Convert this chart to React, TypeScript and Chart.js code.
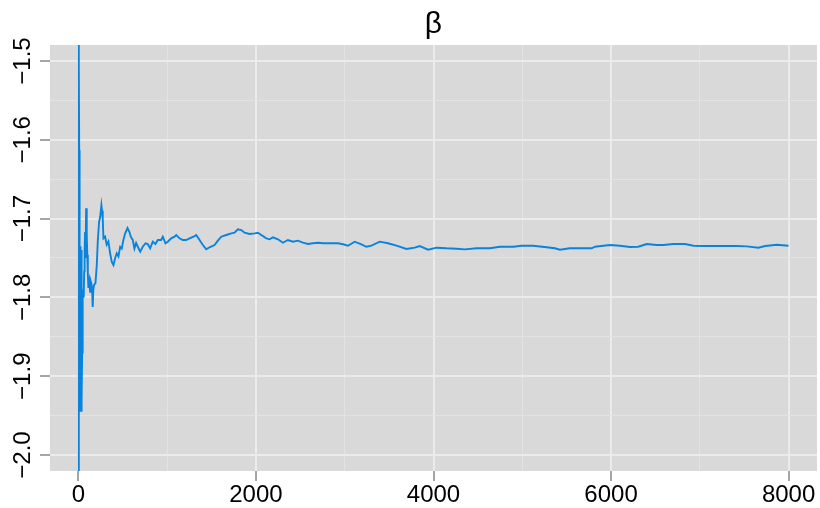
import React, { useEffect, useRef } from "react";
import { Chart, registerables } from "chart.js";

Chart.register(...registerables);

// Iteration numbers and running-mean values of β
const iterations = [
  1, 3, 6, 9, 12, 15, 18, 21, 24, 27, 30, 33, 36, 39, 42, 46, 50, 55, 60, 65, 70, 75, 80, 87, 94,
  100, 106, 113, 122, 132, 140, 150, 156, 161, 168, 177, 192, 207, 218, 233, 245, 259, 266, 274,
  282, 301, 319, 338, 357, 376, 395, 414, 432, 451, 470, 488, 507, 526, 553, 575, 590, 612, 631,
  650, 669, 696, 725, 756, 781, 808, 838, 868, 894, 932, 951, 981, 1007, 1045, 1083, 1102, 1139,
  1176, 1214, 1252, 1297, 1327, 1365, 1402, 1440, 1477, 1534, 1571, 1609, 1666, 1722, 1759, 1796,
  1835, 1872, 1928, 1985, 2022, 2060, 2117, 2154, 2191, 2248, 2304, 2360, 2417, 2473, 2529, 2586,
  2642, 2699, 2755, 2831, 2924, 2981, 3037, 3112, 3188, 3244, 3301, 3394, 3488, 3583, 3695, 3789,
  3845, 3939, 4034, 4147, 4259, 4353, 4485, 4635, 4748, 4898, 4992, 5123, 5274, 5368, 5424, 5537,
  5782, 5819, 5988, 6101, 6214, 6307, 6402, 6515, 6589, 6702, 6834, 6928, 7040, 7191, 7417, 7530,
  7660, 7736, 7868, 7999,
];

const betaValues = [
  -2.06, -1.44, -1.51, -1.613, -1.62, -1.74, -1.735, -1.85, -1.945, -1.94, -1.74, -1.78, -1.945,
  -1.93, -1.87, -1.865, -1.8, -1.79, -1.8, -1.767, -1.74, -1.717, -1.75, -1.687, -1.721, -1.746,
  -1.77, -1.788, -1.78, -1.793, -1.78, -1.784, -1.795, -1.812, -1.79, -1.784, -1.782, -1.759,
  -1.729, -1.704, -1.698, -1.683, -1.69, -1.7, -1.725, -1.723, -1.733, -1.729, -1.744, -1.755,
  -1.759, -1.75, -1.744, -1.748, -1.736, -1.738, -1.727, -1.719, -1.712, -1.717, -1.723, -1.727,
  -1.738, -1.731, -1.7357, -1.742, -1.7357, -1.7313, -1.7322, -1.7377, -1.7293, -1.7322, -1.7272,
  -1.7272, -1.723, -1.7313, -1.7293, -1.725, -1.723, -1.7208, -1.725, -1.7272, -1.7272, -1.725,
  -1.723, -1.7208, -1.7272, -1.7335, -1.739, -1.7364, -1.7335, -1.728, -1.723, -1.7208, -1.7187,
  -1.7179, -1.7136, -1.7145, -1.7179, -1.7195, -1.7187, -1.7179, -1.7208, -1.725, -1.7263, -1.7238,
  -1.7263, -1.7306, -1.7272, -1.7293, -1.728, -1.7306, -1.7322, -1.7313, -1.7306, -1.7313,
  -1.7313, -1.7313, -1.7326, -1.7344, -1.7293, -1.7326, -1.7357, -1.7344, -1.7293, -1.7313,
  -1.7344, -1.7386, -1.7369, -1.7348, -1.7395, -1.7369, -1.7377, -1.7382, -1.739, -1.7377,
  -1.7377, -1.7357, -1.7357, -1.7344, -1.7344, -1.7364, -1.7377, -1.7395, -1.7377, -1.7377,
  -1.7357, -1.7335, -1.7344, -1.736, -1.7357, -1.7322, -1.7335, -1.7335, -1.7322, -1.7322,
  -1.7344, -1.7348, -1.7348, -1.7348, -1.7352, -1.7369, -1.7348, -1.7331, -1.7344,
];

const xMajorTicks = [0, 2000, 4000, 6000, 8000];
const xMinorTicks = [1000, 3000, 5000, 7000];
const yMajorTicks = [-2.0, -1.9, -1.8, -1.7, -1.6, -1.5];
const yMinorTicks = [-1.95, -1.85, -1.75, -1.65, -1.55];

const xRange = [-320, 8320];
const yRange = [-2.0203, -1.4797];
const titleText = "β";

const isIn = (list: number[], v: number) => list.some((t) => Math.abs(t - v) < 1e-6);

const panelBg = {
  id: "panelBg",
  beforeDraw(chart: any) {
    const { ctx, chartArea } = chart;
    if (!chartArea) return;
    ctx.save();
    ctx.fillStyle = "#D9D9D9";
    ctx.fillRect(chartArea.left, chartArea.top, chartArea.right - chartArea.left, chartArea.bottom - chartArea.top);
    ctx.restore();
  },
};

export default function App() {
  const ref = useRef<HTMLCanvasElement | null>(null);

  useEffect(() => {
    if (!ref.current) return;
    const xTicks = [...xMajorTicks, ...xMinorTicks].sort((a, b) => a - b);
    const yTicks = [...yMajorTicks, ...yMinorTicks].sort((a, b) => a - b);
    const data = iterations.map((it, i) => ({ x: it, y: betaValues[i] }));
    const font = "'Liberation Sans', Arial, sans-serif";

    const chart = new Chart(ref.current, {
      type: "line",
      data: {
        datasets: [
          {
            data,
            borderColor: "#0A83DC",
            borderWidth: 1.9,
            pointRadius: 0,
            tension: 0,
            fill: false,
          },
        ],
      },
      options: {
        animation: false,
        responsive: false,
        devicePixelRatio: 1,
        layout: { padding: { left: 0, right: 3, top: 0, bottom: 0 } },
        plugins: {
          legend: { display: false },
          tooltip: { enabled: false },
          title: {
            display: true,
            fullSize: false,
            text: titleText,
            color: "#000",
            font: { family: font, size: 30, weight: "normal", lineHeight: 1.2 },
            padding: { top: 7, bottom: 2 },
          },
        },
        scales: {
          x: {
            type: "linear",
            min: xRange[0],
            max: xRange[1],
            afterBuildTicks: (scale: any) => {
              scale.ticks = xTicks.map((v) => ({ value: v }));
            },
            afterFit: (scale: any) => {
              scale.height = 37;
            },
            border: { display: false },
            grid: {
              color: (c: any) => (isIn(xMajorTicks, c.tick.value) ? "#EBEBEB" : "#E3E3E3"),
              lineWidth: (c: any) => (isIn(xMajorTicks, c.tick.value) ? 2 : 1),
              tickColor: (c: any) => (isIn(xMajorTicks, c.tick.value) ? "#4D4D4D" : "rgba(0,0,0,0)"),
              tickWidth: 1,
              tickLength: 10,
              drawTicks: true,
            },
            ticks: {
              autoSkip: false,
              maxRotation: 0,
              minRotation: 0,
              padding: 0,
              color: "#000",
              font: { family: font, size: 24 },
              callback: (v: any) => (isIn(xMajorTicks, Number(v)) ? String(v) : ""),
            },
          },
          y: {
            type: "linear",
            min: yRange[0],
            max: yRange[1],
            afterBuildTicks: (scale: any) => {
              scale.ticks = yTicks.map((v) => ({ value: v }));
            },
            afterFit: (scale: any) => {
              scale.width = 50;
            },
            border: { display: false },
            grid: {
              color: (c: any) => (isIn(yMajorTicks, c.tick.value) ? "#EBEBEB" : "#E3E3E3"),
              lineWidth: (c: any) => (isIn(yMajorTicks, c.tick.value) ? 2 : 1),
              tickColor: (c: any) => (isIn(yMajorTicks, c.tick.value) ? "#4D4D4D" : "rgba(0,0,0,0)"),
              tickWidth: 1,
              tickLength: 10,
              drawTicks: true,
            },
            ticks: {
              autoSkip: false,
              minRotation: 90,
              maxRotation: 90,
              crossAlign: "center",
              padding: -7,
              color: "#000",
              font: { family: font, size: 24 },
              callback: (v: any) =>
                isIn(yMajorTicks, Number(v)) ? Number(v).toFixed(1).replace("-", "\u2212") : "",
            },
          },
        },
      },
      plugins: [panelBg],
    } as any);

    return () => chart.destroy();
  }, []);

  return (
    <div style={{ position: "fixed", left: 0, top: 0, width: 820, height: 508, background: "#fff" }}>
      <canvas ref={ref} width={820} height={508} />
    </div>
  );
}
